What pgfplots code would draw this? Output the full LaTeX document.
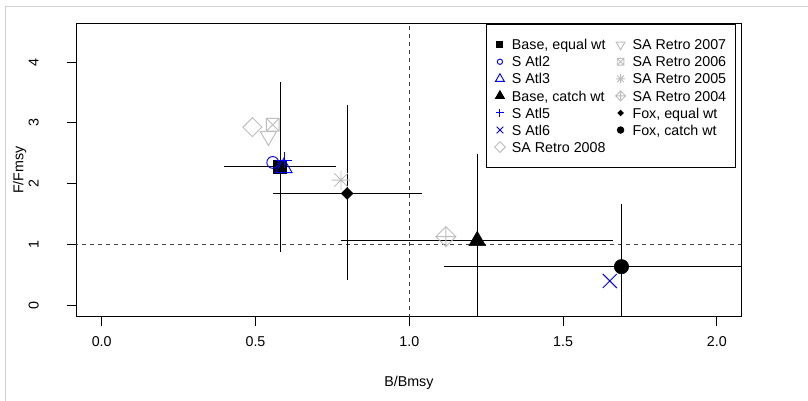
\documentclass[border=0pt]{standalone}
\usepackage{pgfplots}
\pgfplotsset{compat=1.18}
\usepackage{fontspec}
\setmainfont{Liberation Sans}
\newcommand\lab{\fontsize{10.7}{12.8}\selectfont}
\newcommand\yl[1]{\raisebox{21pt}{#1}}

% R-style plot symbols
\pgfdeclareplotmark{Rdiamond}{%
  \pgfpathmoveto{\pgfqpoint{0pt}{\pgfplotmarksize}}%
  \pgfpathlineto{\pgfqpoint{\pgfplotmarksize}{0pt}}%
  \pgfpathlineto{\pgfqpoint{0pt}{-\pgfplotmarksize}}%
  \pgfpathlineto{\pgfqpoint{-\pgfplotmarksize}{0pt}}%
  \pgfpathclose\pgfusepathqstroke}
\pgfdeclareplotmark{Rdiamond*}{%
  \pgfpathmoveto{\pgfqpoint{0pt}{\pgfplotmarksize}}%
  \pgfpathlineto{\pgfqpoint{\pgfplotmarksize}{0pt}}%
  \pgfpathlineto{\pgfqpoint{0pt}{-\pgfplotmarksize}}%
  \pgfpathlineto{\pgfqpoint{-\pgfplotmarksize}{0pt}}%
  \pgfpathclose\pgfusepathqfillstroke}
\pgfdeclareplotmark{Rdiamondplus}{%
  \pgfpathmoveto{\pgfqpoint{0pt}{\pgfplotmarksize}}%
  \pgfpathlineto{\pgfqpoint{\pgfplotmarksize}{0pt}}%
  \pgfpathlineto{\pgfqpoint{0pt}{-\pgfplotmarksize}}%
  \pgfpathlineto{\pgfqpoint{-\pgfplotmarksize}{0pt}}%
  \pgfpathclose
  \pgfpathmoveto{\pgfqpoint{0pt}{\pgfplotmarksize}}%
  \pgfpathlineto{\pgfqpoint{0pt}{-\pgfplotmarksize}}%
  \pgfpathmoveto{\pgfqpoint{-\pgfplotmarksize}{0pt}}%
  \pgfpathlineto{\pgfqpoint{\pgfplotmarksize}{0pt}}%
  \pgfusepathqstroke}
\pgfdeclareplotmark{Rsquarex}{%
  \pgfpathrectangle{\pgfqpoint{-\pgfplotmarksize}{-\pgfplotmarksize}}{\pgfqpoint{2\pgfplotmarksize}{2\pgfplotmarksize}}%
  \pgfpathmoveto{\pgfqpoint{-\pgfplotmarksize}{-\pgfplotmarksize}}%
  \pgfpathlineto{\pgfqpoint{\pgfplotmarksize}{\pgfplotmarksize}}%
  \pgfpathmoveto{\pgfqpoint{-\pgfplotmarksize}{\pgfplotmarksize}}%
  \pgfpathlineto{\pgfqpoint{\pgfplotmarksize}{-\pgfplotmarksize}}%
  \pgfusepathqstroke}
\pgfdeclareplotmark{Rstar}{%
  \pgfpathmoveto{\pgfqpoint{0pt}{\pgfplotmarksize}}%
  \pgfpathlineto{\pgfqpoint{0pt}{-\pgfplotmarksize}}%
  \pgfpathmoveto{\pgfqpoint{-\pgfplotmarksize}{0pt}}%
  \pgfpathlineto{\pgfqpoint{\pgfplotmarksize}{0pt}}%
  \pgfpathmoveto{\pgfqpoint{-.7071\pgfplotmarksize}{-.7071\pgfplotmarksize}}%
  \pgfpathlineto{\pgfqpoint{.7071\pgfplotmarksize}{.7071\pgfplotmarksize}}%
  \pgfpathmoveto{\pgfqpoint{-.7071\pgfplotmarksize}{.7071\pgfplotmarksize}}%
  \pgfpathlineto{\pgfqpoint{.7071\pgfplotmarksize}{-.7071\pgfplotmarksize}}%
  \pgfusepathqstroke}
\pgfdeclareplotmark{Rx}{%
  \pgfpathmoveto{\pgfqpoint{-\pgfplotmarksize}{-\pgfplotmarksize}}%
  \pgfpathlineto{\pgfqpoint{\pgfplotmarksize}{\pgfplotmarksize}}%
  \pgfpathmoveto{\pgfqpoint{-\pgfplotmarksize}{\pgfplotmarksize}}%
  \pgfpathlineto{\pgfqpoint{\pgfplotmarksize}{-\pgfplotmarksize}}%
  \pgfusepathqstroke}
\pgfdeclareplotmark{Rtridown}{%
  \pgfpathmoveto{\pgfqpoint{0pt}{-\pgfplotmarksize}}%
  \pgfpathlineto{\pgfqpoint{.866\pgfplotmarksize}{.5\pgfplotmarksize}}%
  \pgfpathlineto{\pgfqpoint{-.866\pgfplotmarksize}{.5\pgfplotmarksize}}%
  \pgfpathclose\pgfusepathqstroke}

\definecolor{rblue}{RGB}{0,0,255}
\definecolor{rgray}{RGB}{190,190,190}

\begin{document}
\begin{tikzpicture}
\useasboundingbox (-57pt,-63.2pt) rectangle (549pt,237.5pt);
\draw[black!18, line width=0.75pt] (-52.5pt,-63.2pt) -- (-52.5pt,232.5pt) -- (549pt,232.5pt);
\begin{axis}[
    scale only axis,
    width=499.3pt, height=220pt,
    xmin=-0.0836, xmax=2.081,
    ymin=-0.1875, ymax=4.638,
    axis line style={line width=0.75pt},
    tick pos=left,
    tick align=outside,
    major tick length=7pt,
    tick style={black, line width=0.75pt},
    xtick={0,0.5,1,1.5,2},
    xticklabels={0.0,0.5,1.0,1.5,2.0},
    ytick={0,1,2,3,4},
    yticklabels={\yl{0},\yl{1},\yl{2},\yl{3},\yl{4}},
    /pgf/number format/assume math mode=true,
    xticklabel style={font=\lab, anchor=base, inner sep=0pt},
    yticklabel style={font=\lab, rotate=90, anchor=base, inner sep=0pt},
    xticklabel shift=15.7pt,
    xlabel={B/Bmsy},
    ylabel={F/Fmsy},
    xlabel style={font=\lab, at={(axis description cs:0.5,-0.2375)}, anchor=base, inner sep=0pt},
    ylabel style={font=\lab, at={(axis description cs:-0.0789,0.5)}, rotate=0, anchor=base, inner sep=0pt},
    legend columns=2,
    legend cell align=left,
    legend image code/.code={%
        \path[draw=none] (-5pt,0pt) -- (5pt,0pt);
        \draw[#1] plot[only marks] coordinates {(0pt,0pt)};},
    legend style={
        at={(axis description cs:0.616,0.998)}, anchor=north west,
        font=\lab, draw=black, line width=0.75pt,
        inner xsep=5pt, inner ysep=8.8pt,
        row sep=0pt, column sep=2pt,
        /tikz/every even column/.append style={column sep=4.3pt},
        nodes={inner xsep=2pt, inner ysep=2.55pt, text height=7.7pt, text depth=0pt}},
]

% reference lines at B/Bmsy = 1 and F/Fmsy = 1
\addplot[forget plot, black!75, line width=0.75pt, dash pattern=on 3pt off 3pt]
    coordinates {(1,-1) (1,6)};
\addplot[forget plot, black!75, line width=0.75pt, dash pattern=on 3pt off 3pt]
    coordinates {(-1,1) (3,1)};

% confidence intervals
\addplot[forget plot, only marks, mark=none, black,
    error bars/.cd, x dir=both, x explicit, y dir=both, y explicit,
    error mark=none, error bar style={line width=0.75pt, black}]
    coordinates {
        (0.580,2.28) += (0.181,1.39) -= (0.182,1.40)
        (0.798,1.84) += (0.244,1.45) -= (0.240,1.42)
        (1.221,1.06) += (0.442,1.43) -= (0.444,1.50)
        (1.690,0.635) += (0.577,1.035) -= (0.577,1.10)
    };

% point estimates
\addplot[forget plot, only marks, black, mark=square*, mark size=4.9pt] coordinates {(0.580,2.28)};
\addplot[forget plot, only marks, rblue, line width=0.7pt, mark=o, mark size=4.4pt] coordinates {(0.556,2.35)};
\addplot[forget plot, only marks, rblue, line width=0.7pt, mark=triangle, mark size=7.2pt] coordinates {(0.592,2.26)};
\addplot[forget plot, only marks, black, mark=triangle*, mark size=7.2pt] coordinates {(1.221,1.06)};
\addplot[forget plot, only marks, rblue, line width=0.7pt, mark=+, mark size=5.9pt] coordinates {(0.593,2.39)};
\addplot[forget plot, only marks, rblue, line width=0.7pt, mark=Rx, mark size=5.25pt] coordinates {(1.652,0.40)};
\addplot[forget plot, only marks, rgray, line width=0.7pt, mark=Rdiamond, mark size=7.1pt] coordinates {(0.490,2.93)};
\addplot[forget plot, only marks, rgray, line width=0.7pt, mark=Rtridown, mark size=6.9pt] coordinates {(0.542,2.78)};
\addplot[forget plot, only marks, rgray, line width=0.7pt, mark=Rsquarex, mark size=4.8pt] coordinates {(0.556,2.97)};
\addplot[forget plot, only marks, rgray, line width=0.7pt, mark=Rstar, mark size=7.1pt] coordinates {(0.778,2.06)};
\addplot[forget plot, only marks, rgray, line width=0.7pt, mark=Rdiamondplus, mark size=7.5pt] coordinates {(1.119,1.13)};
\addplot[forget plot, only marks, black, mark=Rdiamond*, mark size=4.4pt] coordinates {(0.798,1.84)};
\addplot[forget plot, only marks, black, mark=*, mark size=5.4pt] coordinates {(1.690,0.635)};

% legend, filled row by row so that it reads column by column
\addlegendimage{black, mark=square*, mark size=2.3pt}
\addlegendentry{Base, equal wt}
\addlegendimage{rgray, line width=0.7pt, mark=Rtridown, mark size=3.8pt}
\addlegendentry{SA Retro 2007}
\addlegendimage{rblue, line width=0.7pt, mark=o, mark size=2pt}
\addlegendentry{S Atl2}
\addlegendimage{rgray, line width=0.7pt, mark=Rsquarex, mark size=2.5pt}
\addlegendentry{SA Retro 2006}
\addlegendimage{rblue, line width=0.7pt, mark=triangle, mark size=3.8pt}
\addlegendentry{S Atl3}
\addlegendimage{rgray, line width=0.7pt, mark=Rstar, mark size=3.5pt}
\addlegendentry{SA Retro 2005}
\addlegendimage{black, mark=triangle*, mark size=3.8pt}
\addlegendentry{Base, catch wt}
\addlegendimage{rgray, line width=0.7pt, mark=Rdiamondplus, mark size=3.75pt}
\addlegendentry{SA Retro 2004}
\addlegendimage{rblue, line width=0.7pt, mark=+, mark size=2.8pt}
\addlegendentry{S Atl5}
\addlegendimage{black, mark=Rdiamond*, mark size=1.9pt}
\addlegendentry{Fox, equal wt}
\addlegendimage{rblue, line width=0.7pt, mark=Rx, mark size=2.5pt}
\addlegendentry{S Atl6}
\addlegendimage{black, mark=*, mark size=2.4pt}
\addlegendentry{Fox, catch wt}
\addlegendimage{rgray, line width=0.7pt, mark=Rdiamond, mark size=4pt}
\addlegendentry{SA Retro 2008}
\end{axis}
\end{tikzpicture}
\end{document}
